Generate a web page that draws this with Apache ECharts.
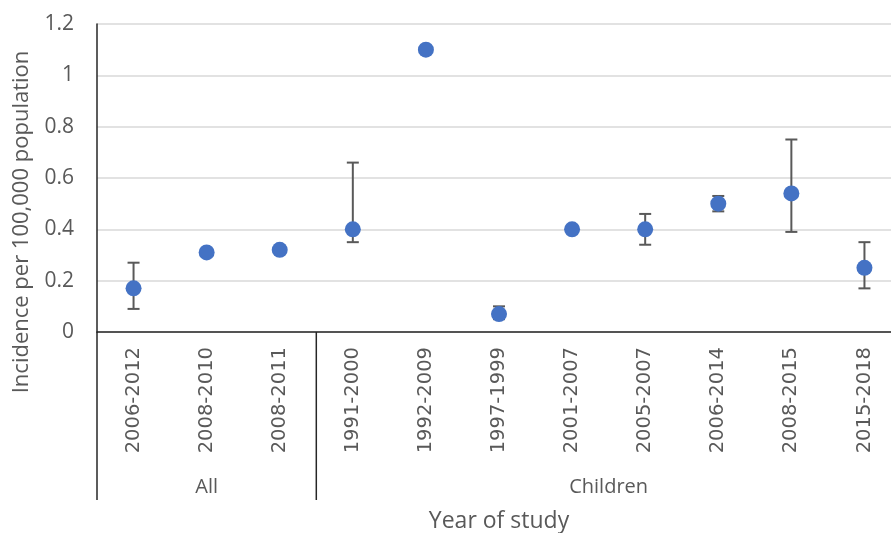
<!DOCTYPE html>
<html>
<head>
<meta charset="utf-8">
<script src="https://cdn.jsdelivr.net/npm/echarts@6/dist/echarts.min.js"></script>
<style>
  html, body { margin: 0; padding: 0; background: #fff; }
  #chart { width: 891px; height: 533px; }
</style>
</head>
<body>
<div id="chart"></div>
<script>
// Study periods and incidence estimates (per 100,000 population)
const categories = ['2006-2012', '2008-2010', '2008-2011', '1991-2000', '1992-2009',
  '1997-1999', '2001-2007', '2005-2007', '2006-2014', '2008-2015', '2015-2018'];
const incidence = [0.17, 0.31, 0.32, 0.40, 1.10, 0.07, 0.40, 0.40, 0.50, 0.54, 0.25];
const upperCI = [0.27, null, null, 0.66, null, 0.10, null, 0.46, 0.53, 0.75, 0.35];
const lowerCI = [0.09, null, null, 0.35, null, 0.05, null, 0.34, 0.47, 0.39, 0.17];
// Population groups spanning consecutive categories
const groupNames = ['All', 'Children'];
const groupSizes = [3, 8];
const yTicks = [0, 0.2, 0.4, 0.6, 0.8, 1, 1.2];

const chart = echarts.init(document.getElementById('chart'), null, { renderer: 'canvas' });

const grey = '#595959';
const errData = categories.map((c, i) => [i, lowerCI[i], upperCI[i]]).filter(d => d[1] != null);

const option = {
  animation: false,
  grid: { left: 97, top: 24, right: -10, bottom: 201, containLabel: false, outerBoundsMode: 'none' },
  xAxis: {
    type: 'category',
    data: categories,
    boundaryGap: true,
    axisLine: { lineStyle: { color: '#262626', width: 1.5 } },
    axisTick: { show: false },
    axisLabel: {
      rotate: 90, margin: 15, color: grey,
      fontFamily: 'DejaVu Sans', fontSize: 19.5
    },
    name: 'Year of study',
    nameLocation: 'middle',
    nameGap: 178,
    nameTextStyle: { fontFamily: 'Open Sans', fontSize: 23, color: grey }
  },
  yAxis: {
    type: 'value',
    min: 0, max: 1.2, interval: 0.2,
    axisLine: { show: true, lineStyle: { color: '#262626', width: 1.5 } },
    axisTick: { show: false },
    splitLine: { lineStyle: { color: '#d9d9d9', width: 1.5 } },
    axisLabel: {
      margin: 23, color: grey, fontFamily: 'Open Sans', fontSize: 21,
      formatter: v => {
        const t = yTicks.find(k => Math.abs(k - v) < 1e-9);
        return String(t !== undefined ? t : v);
      }
    }
  },
  series: [
    {
      type: 'custom',
      name: 'CI',
      z: 2,
      data: errData,
      renderItem: (params, api) => {
        const x = api.value(0);
        const lo = api.coord([x, api.value(1)]);
        const hi = api.coord([x, api.value(2)]);
        const cap = 6;
        const style = { stroke: grey, lineWidth: 2 };
        return {
          type: 'group',
          children: [
            { type: 'line', shape: { x1: lo[0], y1: lo[1], x2: hi[0], y2: hi[1] }, style },
            { type: 'line', shape: { x1: hi[0] - cap, y1: hi[1], x2: hi[0] + cap, y2: hi[1] }, style },
            { type: 'line', shape: { x1: lo[0] - cap, y1: lo[1], x2: lo[0] + cap, y2: lo[1] }, style }
          ]
        };
      }
    },
    {
      type: 'scatter',
      name: 'Incidence',
      z: 3,
      symbol: 'circle',
      symbolSize: 16,
      itemStyle: { color: '#4472c4', opacity: 1 },
      data: incidence
    }
  ]
};

chart.setOption(option);

// Group brackets and labels below the category labels
function drawGroups() {
  const elems = [];
  const yBase = chart.convertToPixel({ yAxisIndex: 0 }, 0);
  const bottom = yBase + 168;
  let start = 0;
  const edges = [];
  groupSizes.forEach((n, g) => {
    const left = chart.convertToPixel({ xAxisIndex: 0 }, start);
    const right = chart.convertToPixel({ xAxisIndex: 0 }, start + n - 1);
    const step = n > 1 ? (right - left) / (n - 1) : 73;
    const x0 = left - step / 2;
    const x1 = right + step / 2;
    edges.push(x0, x1);
    elems.push({
      type: 'text',
      x: (x0 + x1) / 2, y: bottom - 13,
      style: {
        text: groupNames[g], fill: grey, fontFamily: 'Open Sans', fontSize: 20,
        align: 'center', verticalAlign: 'middle'
      }
    });
    start += n;
  });
  const uniq = [...new Set(edges.map(e => Math.round(e * 10) / 10))];
  uniq.forEach(x => {
    elems.push({
      type: 'line',
      shape: { x1: x, y1: yBase, x2: x, y2: bottom },
      style: { stroke: '#262626', lineWidth: 1.5 }
    });
  });
  // Vertical axis title
  const yTop = chart.convertToPixel({ yAxisIndex: 0 }, 1.2);
  elems.push({
    type: 'text',
    x: 22, y: (yTop + bottom) / 2 - 40,
    rotation: Math.PI / 2,
    style: {
      text: 'Incidence per 100,000 population', fill: grey,
      fontFamily: 'Open Sans', fontSize: 22,
      align: 'center', verticalAlign: 'middle'
    }
  });
  chart.setOption({ graphic: { elements: elems } });
}
drawGroups();
</script>
</body>
</html>
